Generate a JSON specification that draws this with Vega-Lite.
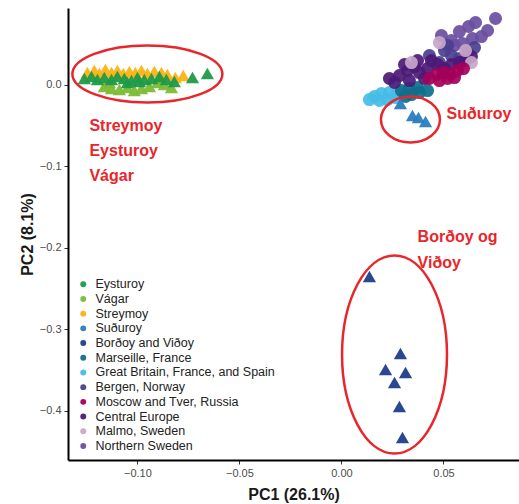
{
  "$schema": "https://vega.github.io/schema/vega-lite/v6.json",
  "autosize": {"type": "none"},
  "padding": {"left": 68, "top": 8, "right": 0, "bottom": 44},
  "width": 451,
  "height": 452,
  "background": "white",
  "config": {"view": {"stroke": null}},
  "datasets": {
    "pts": [
      {"pop": "Great Britain, France, and Spain", "x": 0.0162, "y": -0.0147},
      {"pop": "Great Britain, France, and Spain", "x": 0.0196, "y": -0.011},
      {"pop": "Great Britain, France, and Spain", "x": 0.0235, "y": -0.0098},
      {"pop": "Great Britain, France, and Spain", "x": 0.0186, "y": -0.0196},
      {"pop": "Great Britain, France, and Spain", "x": 0.0225, "y": -0.0184},
      {"pop": "Great Britain, France, and Spain", "x": 0.0265, "y": -0.016},
      {"pop": "Great Britain, France, and Spain", "x": 0.0137, "y": -0.0184},
      {"pop": "Great Britain, France, and Spain", "x": 0.0275, "y": -0.0098},
      {"pop": "Marseille, France", "x": 0.0294, "y": -0.0074},
      {"pop": "Marseille, France", "x": 0.0333, "y": -0.0049},
      {"pop": "Marseille, France", "x": 0.0373, "y": -0.0037},
      {"pop": "Marseille, France", "x": 0.0343, "y": -0.0123},
      {"pop": "Marseille, France", "x": 0.0382, "y": -0.0098},
      {"pop": "Marseille, France", "x": 0.0422, "y": -0.0074},
      {"pop": "Marseille, France", "x": 0.0314, "y": -0.0147},
      {"pop": "Northern Sweden", "x": 0.049, "y": 0.0601},
      {"pop": "Northern Sweden", "x": 0.0578, "y": 0.065},
      {"pop": "Northern Sweden", "x": 0.0623, "y": 0.0712},
      {"pop": "Northern Sweden", "x": 0.0657, "y": 0.0761},
      {"pop": "Northern Sweden", "x": 0.0755, "y": 0.081},
      {"pop": "Northern Sweden", "x": 0.0686, "y": 0.0589},
      {"pop": "Northern Sweden", "x": 0.0642, "y": 0.0564},
      {"pop": "Northern Sweden", "x": 0.0593, "y": 0.0503},
      {"pop": "Northern Sweden", "x": 0.0554, "y": 0.0479},
      {"pop": "Northern Sweden", "x": 0.0716, "y": 0.0663},
      {"pop": "Northern Sweden", "x": 0.0539, "y": 0.054},
      {"pop": "Bergen, Norway", "x": 0.0505, "y": 0.0417},
      {"pop": "Bergen, Norway", "x": 0.0539, "y": 0.0356},
      {"pop": "Bergen, Norway", "x": 0.0578, "y": 0.0319},
      {"pop": "Bergen, Norway", "x": 0.0618, "y": 0.0393},
      {"pop": "Bergen, Norway", "x": 0.048, "y": 0.027},
      {"pop": "Bergen, Norway", "x": 0.0652, "y": 0.0454},
      {"pop": "Bergen, Norway", "x": 0.052, "y": 0.0479},
      {"pop": "Bergen, Norway", "x": 0.0431, "y": 0.0356},
      {"pop": "Central Europe", "x": 0.0284, "y": 0.011},
      {"pop": "Central Europe", "x": 0.0324, "y": 0.0172},
      {"pop": "Central Europe", "x": 0.0358, "y": 0.0221},
      {"pop": "Central Europe", "x": 0.0382, "y": 0.0147},
      {"pop": "Central Europe", "x": 0.0422, "y": 0.0196},
      {"pop": "Central Europe", "x": 0.0441, "y": 0.0294},
      {"pop": "Central Europe", "x": 0.0471, "y": 0.0245},
      {"pop": "Central Europe", "x": 0.0505, "y": 0.0196},
      {"pop": "Central Europe", "x": 0.0539, "y": 0.0245},
      {"pop": "Central Europe", "x": 0.0578, "y": 0.027},
      {"pop": "Central Europe", "x": 0.0608, "y": 0.0294},
      {"pop": "Central Europe", "x": 0.0637, "y": 0.0344},
      {"pop": "Central Europe", "x": 0.0333, "y": 0.0049},
      {"pop": "Central Europe", "x": 0.0407, "y": 0.0074},
      {"pop": "Central Europe", "x": 0.026, "y": 0.0025},
      {"pop": "Central Europe", "x": 0.0373, "y": 0.0294},
      {"pop": "Central Europe", "x": 0.0309, "y": 0.0245},
      {"pop": "Central Europe", "x": 0.0235, "y": 0.0074},
      {"pop": "Malmo, Sweden", "x": 0.0343, "y": 0.027},
      {"pop": "Malmo, Sweden", "x": 0.048, "y": 0.0515},
      {"pop": "Malmo, Sweden", "x": 0.0608, "y": 0.0417},
      {"pop": "Malmo, Sweden", "x": 0.0637, "y": 0.027},
      {"pop": "Moscow and Tver, Russia", "x": 0.0431, "y": 0.0074},
      {"pop": "Moscow and Tver, Russia", "x": 0.0466, "y": 0.0123},
      {"pop": "Moscow and Tver, Russia", "x": 0.05, "y": 0.0147},
      {"pop": "Moscow and Tver, Russia", "x": 0.0534, "y": 0.0123},
      {"pop": "Moscow and Tver, Russia", "x": 0.0569, "y": 0.0172},
      {"pop": "Moscow and Tver, Russia", "x": 0.048, "y": 0.0049},
      {"pop": "Moscow and Tver, Russia", "x": 0.052, "y": 0.0074},
      {"pop": "Moscow and Tver, Russia", "x": 0.0554, "y": 0.0086},
      {"pop": "Moscow and Tver, Russia", "x": 0.0598, "y": 0.0196},
      {"pop": "Streymoy", "x": -0.1245, "y": 0.0147},
      {"pop": "Streymoy", "x": -0.1211, "y": 0.0172},
      {"pop": "Streymoy", "x": -0.1186, "y": 0.0135},
      {"pop": "Streymoy", "x": -0.1157, "y": 0.0184},
      {"pop": "Streymoy", "x": -0.1127, "y": 0.0147},
      {"pop": "Streymoy", "x": -0.1098, "y": 0.0172},
      {"pop": "Streymoy", "x": -0.1069, "y": 0.0135},
      {"pop": "Streymoy", "x": -0.1039, "y": 0.016},
      {"pop": "Streymoy", "x": -0.101, "y": 0.0147},
      {"pop": "Streymoy", "x": -0.098, "y": 0.0172},
      {"pop": "Streymoy", "x": -0.0951, "y": 0.0135},
      {"pop": "Streymoy", "x": -0.0917, "y": 0.016},
      {"pop": "Streymoy", "x": -0.0882, "y": 0.0147},
      {"pop": "Streymoy", "x": -0.0853, "y": 0.0123},
      {"pop": "Streymoy", "x": -0.0814, "y": 0.0086},
      {"pop": "Streymoy", "x": -0.0775, "y": 0.011},
      {"pop": "Vágar", "x": -0.1162, "y": -0.0025},
      {"pop": "Vágar", "x": -0.1127, "y": -0.0049},
      {"pop": "Vágar", "x": -0.1088, "y": -0.0061},
      {"pop": "Vágar", "x": -0.1049, "y": -0.0037},
      {"pop": "Vágar", "x": -0.1015, "y": -0.0074},
      {"pop": "Vágar", "x": -0.098, "y": -0.0049},
      {"pop": "Vágar", "x": -0.0941, "y": -0.0025},
      {"pop": "Vágar", "x": -0.0902, "y": 0.0025},
      {"pop": "Vágar", "x": -0.0868, "y": 0.0},
      {"pop": "Vágar", "x": -0.0833, "y": -0.0037},
      {"pop": "Vágar", "x": -0.1137, "y": 0.0025},
      {"pop": "Vágar", "x": -0.0892, "y": 0.0074},
      {"pop": "Eysturoy", "x": -0.126, "y": 0.0074},
      {"pop": "Eysturoy", "x": -0.1225, "y": 0.0098},
      {"pop": "Eysturoy", "x": -0.1196, "y": 0.0061},
      {"pop": "Eysturoy", "x": -0.1162, "y": 0.0086},
      {"pop": "Eysturoy", "x": -0.1127, "y": 0.0061},
      {"pop": "Eysturoy", "x": -0.1098, "y": 0.0098},
      {"pop": "Eysturoy", "x": -0.1064, "y": 0.0074},
      {"pop": "Eysturoy", "x": -0.1029, "y": 0.0049},
      {"pop": "Eysturoy", "x": -0.1, "y": 0.0086},
      {"pop": "Eysturoy", "x": -0.0966, "y": 0.0061},
      {"pop": "Eysturoy", "x": -0.0931, "y": 0.0074},
      {"pop": "Eysturoy", "x": -0.0892, "y": 0.0098},
      {"pop": "Eysturoy", "x": -0.0858, "y": 0.0061},
      {"pop": "Eysturoy", "x": -0.0819, "y": 0.0037},
      {"pop": "Eysturoy", "x": -0.073, "y": 0.0086},
      {"pop": "Eysturoy", "x": -0.0657, "y": 0.0135},
      {"pop": "Eysturoy", "x": -0.1049, "y": 0.0025},
      {"pop": "Eysturoy", "x": -0.099, "y": 0.0037},
      {"pop": "Suðuroy", "x": 0.0289, "y": -0.0233},
      {"pop": "Suðuroy", "x": 0.0348, "y": -0.038},
      {"pop": "Suðuroy", "x": 0.0377, "y": -0.0405},
      {"pop": "Suðuroy", "x": 0.0412, "y": -0.0454},
      {"pop": "Borðoy and Viðoy", "x": 0.0137, "y": -0.2356},
      {"pop": "Borðoy and Viðoy", "x": 0.0289, "y": -0.33},
      {"pop": "Borðoy and Viðoy", "x": 0.0216, "y": -0.3497},
      {"pop": "Borðoy and Viðoy", "x": 0.0314, "y": -0.3534},
      {"pop": "Borðoy and Viðoy", "x": 0.026, "y": -0.3656},
      {"pop": "Borðoy and Viðoy", "x": 0.0284, "y": -0.395},
      {"pop": "Borðoy and Viðoy", "x": 0.0299, "y": -0.4331}
    ],
    "labels": [
      {"t": "Streymoy", "x": -0.1235, "y": -0.0503},
      {"t": "Eysturoy", "x": -0.1235, "y": -0.081},
      {"t": "Vágar", "x": -0.1235, "y": -0.1117},
      {"t": "Suðuroy", "x": 0.0515, "y": -0.0356},
      {"t": "Borðoy og", "x": 0.0373, "y": -0.1865},
      {"t": "Viðoy", "x": 0.0373, "y": -0.2184}
    ]
  },
  "layer": [
    {
      "data": {"name": "pts"},
      "transform": [{"filter": {"field": "pop", "oneOf": ["Marseille, France", "Great Britain, France, and Spain", "Bergen, Norway", "Moscow and Tver, Russia", "Central Europe", "Malmo, Sweden", "Northern Sweden"]}}],
      "mark": {"type": "point", "shape": "circle", "filled": true, "opacity": 0.92, "size": 170, "strokeWidth": 0},
      "encoding": {
        "x": {
          "field": "x", "type": "quantitative",
          "scale": {"domain": [-0.134, 0.087], "nice": false, "zero": false},
          "axis": {
            "title": "PC1 (26.1%)", "values": [-0.1, -0.05, 0, 0.05], "format": ".2f",
            "grid": false, "domainColor": "#000000", "domainWidth": 2,
            "tickColor": "#333333", "tickSize": 4, "labelFont": "Liberation Sans", "labelFontSize": 11,
            "labelColor": "#4d4d4d", "labelPadding": 3, "titleFont": "Liberation Sans", "titleFontSize": 16,
            "titleFontWeight": "bold", "titleColor": "#1a1a1a", "titlePadding": 8
          }
        },
        "y": {
          "field": "y", "type": "quantitative",
          "scale": {"domain": [-0.4607, 0.0939], "nice": false, "zero": false},
          "axis": {
            "title": "PC2 (8.1%)", "values": [-0.4, -0.3, -0.2, -0.1, 0], "format": ".1f",
            "grid": false, "domainColor": "#000000", "domainWidth": 2,
            "tickColor": "#333333", "tickSize": 4, "labelFont": "Liberation Sans", "labelFontSize": 11,
            "labelColor": "#4d4d4d", "labelPadding": 3, "titleFont": "Liberation Sans", "titleFontSize": 16,
            "titleFontWeight": "bold", "titleColor": "#1a1a1a", "titlePadding": 4
          }
        },
        "color": {
          "field": "pop", "type": "nominal",
          "scale": {
            "domain": ["Eysturoy", "Vágar", "Streymoy", "Suðuroy", "Borðoy and Viðoy", "Marseille, France", "Great Britain, France, and Spain", "Bergen, Norway", "Moscow and Tver, Russia", "Central Europe", "Malmo, Sweden", "Northern Sweden"],
            "range": ["#1f9a48", "#7dbb35", "#fcb314", "#2b7bc0", "#1f3d8c", "#0e6f8c", "#45bde6", "#4b3f8f", "#a4005a", "#4b1a77", "#c7a6c9", "#6a4ea0"]
          },
          "legend": {
            "title": null, "orient": "none", "legendX": 9, "legendY": 270,
            "symbolType": "circle", "symbolSize": 35, "symbolOpacity": 1, "symbolStrokeWidth": 0,
            "labelFont": "Liberation Sans", "labelFontSize": 12.5, "labelColor": "#222222",
            "labelOffset": 6, "rowPadding": 1.7, "padding": 0, "labelLimit": 300
          }
        }
      }
    },
    {
      "data": {"name": "pts"},
      "transform": [{"filter": {"field": "pop", "oneOf": ["Eysturoy", "Vágar", "Streymoy", "Suðuroy", "Borðoy and Viðoy"]}}],
      "mark": {"type": "point", "shape": "triangle-up", "filled": true, "opacity": 0.95, "size": 175, "strokeWidth": 0},
      "encoding": {
        "x": {"field": "x", "type": "quantitative"},
        "y": {"field": "y", "type": "quantitative"},
        "color": {"field": "pop", "type": "nominal"}
      }
    },
    {
      "data": {"values": [{"x": -0.0951, "y": 0.0129}]},
      "mark": {"type": "point", "filled": false, "stroke": "#e8262b", "strokeWidth": 2.5, "opacity": 1, "size": 22500,
        "shape": "M -1 0 C -1 -0.2099 -0.5523 -0.38 0 -0.38 C 0.5523 -0.38 1 -0.2099 1 0 C 1 0.2099 0.5523 0.38 0 0.38 C -0.5523 0.38 -1 0.2099 -1 0 Z"},
      "encoding": {"x": {"field": "x", "type": "quantitative"}, "y": {"field": "y", "type": "quantitative"}}
    },
    {
      "data": {"values": [{"x": 0.0338, "y": -0.0429}]},
      "mark": {"type": "point", "filled": false, "stroke": "#e8262b", "strokeWidth": 2.5, "opacity": 1, "size": 3481,
        "shape": "M -1 0 C -1 -0.4308 -0.5523 -0.78 0 -0.78 C 0.5523 -0.78 1 -0.4308 1 0 C 1 0.4308 0.5523 0.78 0 0.78 C -0.5523 0.78 -1 0.4308 -1 0 Z"},
      "encoding": {"x": {"field": "x", "type": "quantitative"}, "y": {"field": "y", "type": "quantitative"}}
    },
    {
      "data": {"values": [{"x": 0.026, "y": -0.3313}]},
      "mark": {"type": "point", "filled": false, "stroke": "#e8262b", "strokeWidth": 2.5, "opacity": 1, "size": 39204,
        "shape": "M -0.53 0 C -0.53 -0.5523 -0.2927 -1 0 -1 C 0.2927 -1 0.53 -0.5523 0.53 0 C 0.53 0.5523 0.2927 1 0 1 C -0.2927 1 -0.53 0.5523 -0.53 0 Z"},
      "encoding": {"x": {"field": "x", "type": "quantitative"}, "y": {"field": "y", "type": "quantitative"}}
    },
    {
      "data": {"name": "labels"},
      "mark": {"type": "text", "align": "left", "baseline": "middle", "font": "Liberation Sans", "fontSize": 16, "fontWeight": "bold", "color": "#e8262b"},
      "encoding": {"x": {"field": "x", "type": "quantitative"}, "y": {"field": "y", "type": "quantitative"}, "text": {"field": "t"}}
    }
  ]
}
